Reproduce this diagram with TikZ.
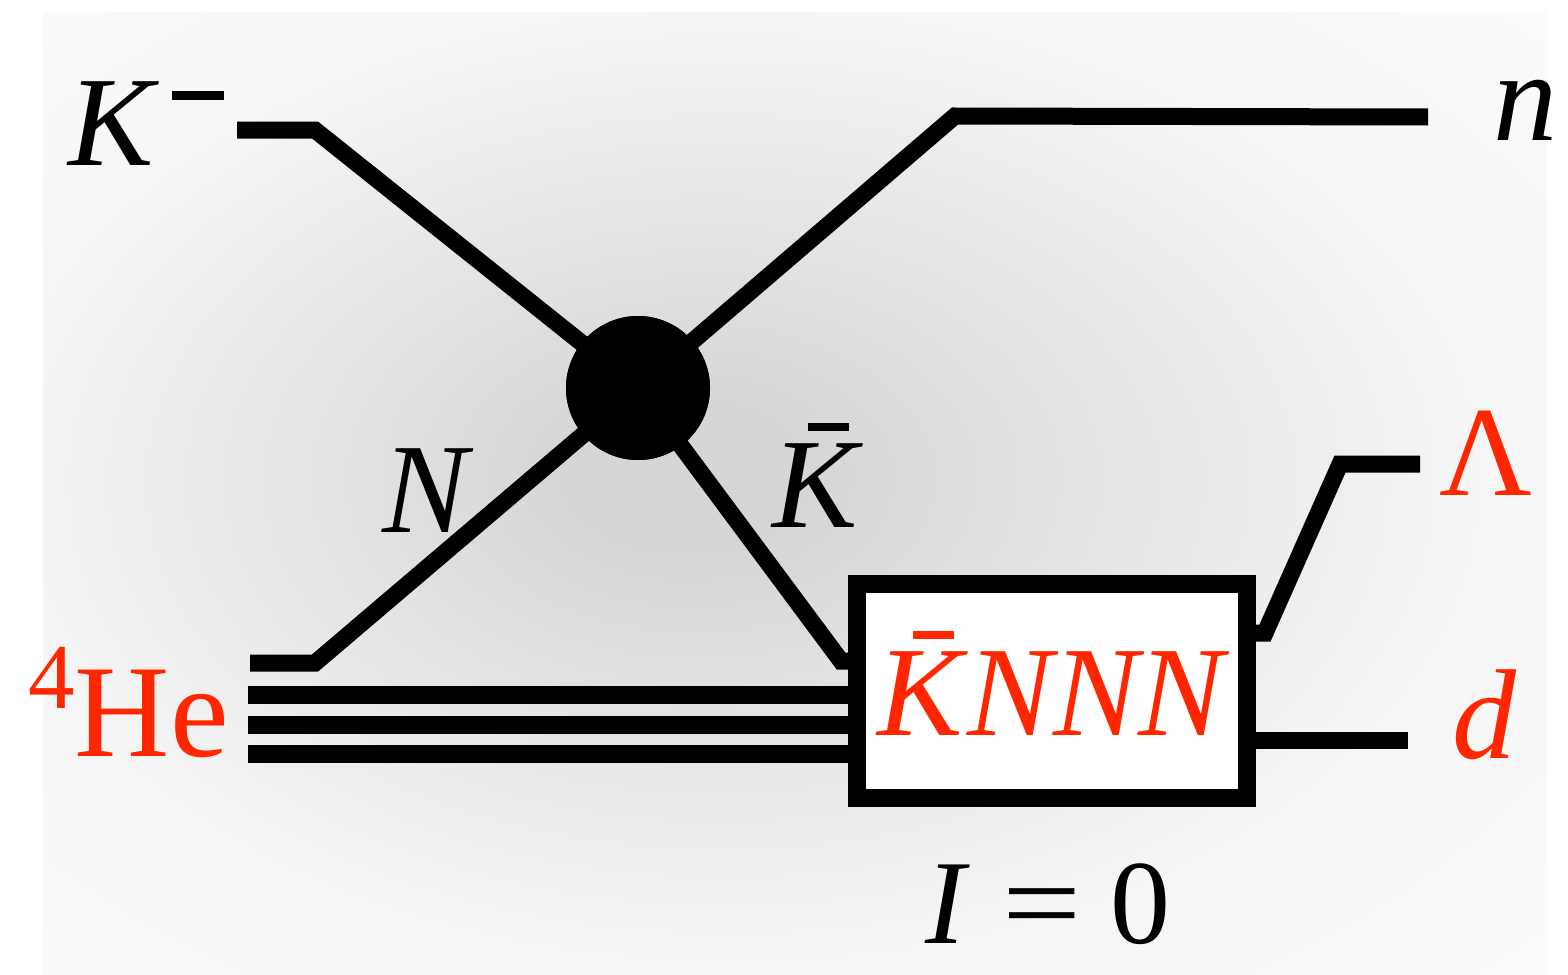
\documentclass[tikz,border=0pt]{standalone}
\usepackage{graphicx}
\usepackage{fontspec}
\setmainfont{Liberation Serif}
\definecolor{hred}{RGB}{255,38,0}
\definecolor{bgin}{RGB}{214,214,214}
\definecolor{bgmid}{RGB}{230,230,230}
\definecolor{bgedge}{RGB}{246,246,246}
\definecolor{bgout}{RGB}{251,251,251}
\pgfdeclareradialshading{bgshade}{\pgfpoint{-4bp}{1bp}}{color(0bp)=(bgin); color(4bp)=(bgin); color(14bp)=(bgmid); color(25bp)=(bgedge); color(36bp)=(bgout); color(50bp)=(bgout)}
\newcommand{\kbarred}{\makebox[0pt][l]{\hspace{0.28em}\rule[0.75em]{0.32em}{0.065em}}\textit{K}}
\newcommand{\bigfont}{\fontsize{128}{128}\selectfont}
\tikzset{
  ln/.style={line width=17pt, black, line join=miter, line cap=butt},
  tln/.style={line width=18pt, black, line cap=butt},
  lbl/.style={inner sep=0pt, anchor=base west, font=\bigfont},
}
\begin{document}
\begin{tikzpicture}[x=1pt,y=-1pt]
\useasboundingbox (0,0) rectangle (1568,974);
\shade[shading=bgshade] (43,13) rectangle (1547,974);
% coordinates
\coordinate (kin) at (237,130);
\coordinate (kb) at (315,130);
\coordinate (nb) at (955,116);
\coordinate (nout) at (1428,117);
\coordinate (hin) at (250,663);
\coordinate (hb) at (315,663);
\coordinate (kbb) at (841,661);
\coordinate (kbe) at (860,661);
\coordinate (t1) at (248,695);
\coordinate (t2) at (248,725);
\coordinate (t3) at (248,754);
\coordinate (lb1) at (1265,633);
\coordinate (lb2) at (1340,464);
\coordinate (lout) at (1420,464);
\coordinate (dout) at (1408,740);
\node[circle, fill=black, minimum size=144pt, inner sep=0pt] (blob) at (638,388) {};
\node[draw=none, minimum width=390pt, minimum height=214pt, inner sep=0pt] (box) at (1052,691) {};
% lines
\draw[ln] (kin) -- (kb) -- (blob.center);
\draw[ln] (blob.center) -- (nb) -- (nout);
\draw[ln] (hin) -- (hb) -- (blob.center);
\draw[ln] (blob.center) -- (kbb) -- (kbe);
\draw[tln] (t1) -- (t1 -| box.west);
\draw[tln] (t2) -- (t2 -| box.west);
\draw[tln] (t3) -- (t3 -| box.west);
\draw[ln] (lb1 -| box.east) -- (lb1) -- (lb2) -- (lout);
\draw[ln] (dout -| box.east) -- (dout);
\node[circle, fill=black, minimum size=144pt, inner sep=0pt] at (blob) {};
\draw[line width=18pt, fill=white] (box.south west) rectangle (box.north east);
% labels
\node[lbl] (lk) at (68,165) {\textit{K}\hspace{0.1em}\rule[0.51em]{0.41em}{0.07em}};
\node[lbl] (ln) at (1493,140) {\textit{n}};
\node[lbl] (lnn) at (382,532) {\textit{N}};
\node[lbl] (lkb) at (772,527) {\kbarred};
\node[lbl, text=hred] (llam) at (1439,495) {Λ};
\node[lbl, text=hred] (ld) at (1452,758) {\textit{d}};
\node[lbl, text=hred, font=\fontsize{132}{132}\selectfont] (lhe) at (28,756) {\raisebox{0.36em}{\fontsize{93}{93}\selectfont 4}He};
\node[lbl, text=hred] (lknnn) at (877,735) {\kbarred\textit{NNN}};
\node[lbl, font=\fontsize{120}{120}\selectfont] (li) at (925,943) {\textit{I}\hspace{0.27em}\scalebox{1.17}[1]{=}\hspace{0.24em}0};
\end{tikzpicture}
\end{document}
